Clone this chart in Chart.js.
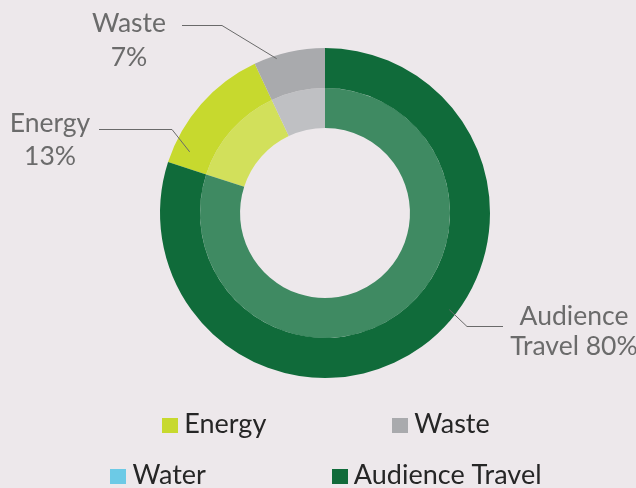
<!DOCTYPE html>
<html>
<head>
<meta charset="utf-8">
<script src="https://cdn.jsdelivr.net/npm/chart.js@4.4.1/dist/chart.umd.min.js"></script>
<style>
  html, body { margin: 0; padding: 0; background: #ede8eb; }
  #chart { display: block; }
</style>
</head>
<body>
<canvas id="chart" width="636" height="488"></canvas>
<script>
"use strict";

const categories = ["Energy", "Waste", "Water", "Audience Travel"];
const shares = [13, 7, 0, 80];
const outerColors = ["#c7d92e", "#a9aaad", "#6ccae6", "#106b3a"];
const innerColors = ["#d2e05b", "#bfc0c3", "#8fd6ec", "#3f8a62"];

// outside labels with leader lines (slice index, text lines)
const callouts = [
    { index: 1, lines: ["Waste", "7%"], frac: 0.31, rFrac: 0.98, elbow: [222, 25.5], start: [182, 25.5], textX: 129, baselines: [32, 66] },
    { index: 0, lines: ["Energy", "13%"], frac: 0.135, rFrac: 0.90, elbow: [172, 129.5], start: [99, 129.5], textX: 50, baselines: [132, 165] },
    { index: 3, lines: ["Audience", "Travel 80%"], frac: 0.444, rFrac: 0.955, elbow: [467, 326.5], start: [503, 326.5], textX: 574, baselines: [325, 355] }
];

const calloutFont = "26.5px Lato";
const legendFont = "27px Lato";

const calloutPlugin = {
    id: "callouts",
    afterDatasetsDraw: function (chart) {
        const ctx = chart.ctx;
        const meta = chart.getDatasetMeta(0);
        ctx.save();
        callouts.forEach(c => {
            const arc = meta.data[c.index];
            const a = arc.startAngle + c.frac * (arc.endAngle - arc.startAngle);
            const r = arc.outerRadius * c.rFrac;
            const ax = arc.x + Math.cos(a) * r;
            const ay = arc.y + Math.sin(a) * r;

            ctx.strokeStyle = "#6a6a6a";
            ctx.lineWidth = 1;
            ctx.beginPath();
            ctx.moveTo(c.start[0], c.start[1]);
            ctx.lineTo(c.elbow[0], c.elbow[1]);
            ctx.lineTo(ax, ay);
            ctx.stroke();

            ctx.fillStyle = "#6b6b6b";
            ctx.font = calloutFont;
            ctx.textAlign = "center";
            ctx.textBaseline = "alphabetic";
            c.lines.forEach((t, i) => ctx.fillText(t, c.textX, c.baselines[i]));
        });
        ctx.restore();
    }
};

// legend: two rows of two items, centred
const legendRows = [[0, 1], [2, 3]];
const legendBaselines = [433, 484];

const legendPlugin = {
    id: "bottomLegend",
    afterDraw: function (chart) {
        const ctx = chart.ctx;
        const box = 16, boxGap = 6, itemGap = 126, centerX = 326;
        ctx.save();
        ctx.font = legendFont;
        ctx.textAlign = "left";
        ctx.textBaseline = "alphabetic";
        legendRows.forEach((row, ri) => {
            const widths = row.map(i => box + boxGap + ctx.measureText(categories[i]).width);
            const total = widths.reduce((a, b) => a + b, 0) + itemGap * (row.length - 1);
            let x = centerX - total / 2;
            const base = legendBaselines[ri];
            row.forEach((i, k) => {
                ctx.fillStyle = outerColors[i];
                ctx.fillRect(Math.round(x), base - 15, box, 15);
                ctx.fillStyle = "#262626";
                ctx.fillText(categories[i], x + box + boxGap, base);
                x += widths[k] + itemGap;
            });
        });
        ctx.restore();
    }
};

new Chart(document.getElementById("chart"), {
    type: "doughnut",
    data: {
        labels: categories,
        datasets: [
            { data: shares, backgroundColor: outerColors, borderWidth: 0, hoverOffset: 0 },
            { data: shares, backgroundColor: innerColors, borderWidth: 0, hoverOffset: 0 }
        ]
    },
    options: {
        responsive: false,
        animation: false,
        rotation: -72,
        cutout: "51.5%",
        layout: { padding: { left: 160, right: 146, top: 48, bottom: 110 } },
        plugins: {
            legend: { display: false },
            tooltip: { enabled: false }
        }
    },
    plugins: [calloutPlugin, legendPlugin]
});
</script>
</body>
</html>
